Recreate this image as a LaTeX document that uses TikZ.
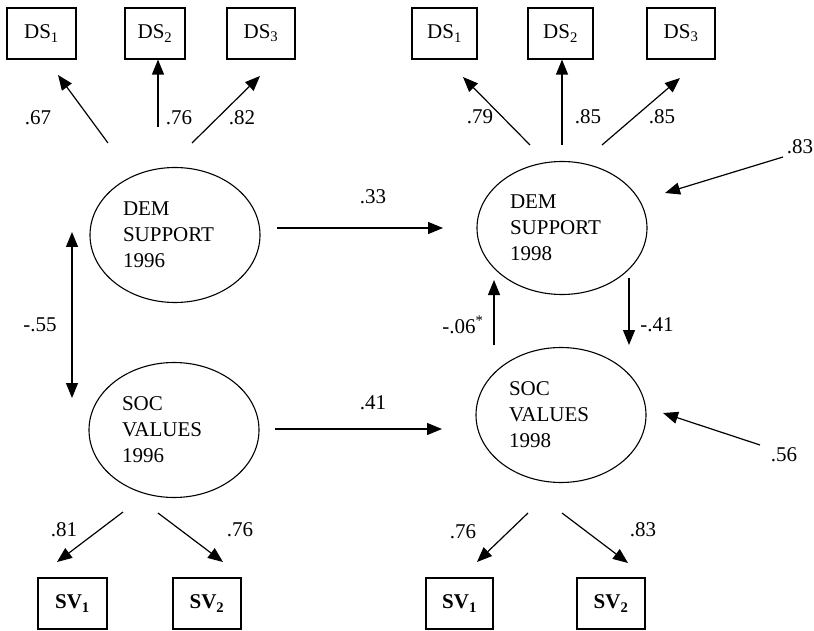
\documentclass[tikz,border=0pt]{standalone}
\usepackage{fontspec}
\setmainfont{Liberation Serif}
\usetikzlibrary{shapes.geometric,arrows.meta}
\begin{document}
\begin{tikzpicture}[x=1pt,y=-1pt,
  font=\fontsize{21}{26}\selectfont,
  obs/.style={draw,line width=1.2pt,minimum height=51pt,inner sep=0pt},
  lat/.style={draw,ellipse,line width=1.1pt,minimum width=170pt,minimum height=135pt,inner sep=0pt,text width=104pt,align=left},
  arr/.style={line width=1.2pt,-{Triangle[length=15pt,width=12pt]}},
  darr/.style={line width=1.2pt,{Triangle[length=15pt,width=12pt]}-{Triangle[length=15pt,width=12pt]}},
  lbl/.style={inner sep=0pt}]
\useasboundingbox (0,0) rectangle (814,631);
% observed indicators
\node[obs,minimum width=69pt] (ds1a) at (41.5,33.5) {DS\textsubscript{1}};
\node[obs,minimum width=60pt] (ds2a) at (155,33.5) {DS\textsubscript{2}};
\node[obs,minimum width=68pt] (ds3a) at (261,33.5) {DS\textsubscript{3}};
\node[obs,minimum width=65pt] (ds1b) at (444.5,33.5) {DS\textsubscript{1}};
\node[obs,minimum width=65pt] (ds2b) at (560.5,33.5) {DS\textsubscript{2}};
\node[obs,minimum width=68pt] (ds3b) at (681,33.5) {DS\textsubscript{3}};
\node[obs,minimum width=69pt,font=\fontsize{21}{26}\selectfont\bfseries] (sv1a) at (72.5,603.5) {SV\textsubscript{1}};
\node[obs,minimum width=68pt,font=\fontsize{21}{26}\selectfont\bfseries] (sv2a) at (207,603.5) {SV\textsubscript{2}};
\node[obs,minimum width=67pt,font=\fontsize{21}{26}\selectfont\bfseries] (sv1b) at (459.5,603.5) {SV\textsubscript{1}};
\node[obs,minimum width=68pt,font=\fontsize{21}{26}\selectfont\bfseries] (sv2b) at (611,603.5) {SV\textsubscript{2}};
% latent variables
\node[lat] (dem96) at (175,235) {DEM\\SUPPORT\\1996};
\node[lat] (soc96) at (174,430) {SOC\\VALUES\\1996};
\node[lat,minimum height=133pt] (dem98) at (562,228) {DEM\\SUPPORT\\1998};
\node[lat] (soc98) at (561,415) {SOC\\VALUES\\1998};
% error sources (free ends)
\coordinate (e1) at (783,157);
\coordinate (e2) at (760,445);
% loadings 1996
\draw[arr] ([shift={(-67,-92)}]dem96.center) -- ([shift={(16.5,41.5)}]ds1a.center);
\draw[arr] ([shift={(-17,-108)}]dem96.center) -- ([shift={(3,0)}]ds2a.south);
\draw[arr] ([shift={(17,-92)}]dem96.center) -- ([shift={(-1,42.5)}]ds3a.center);
% loadings 1998
\draw[arr] ([shift={(-32,-83)}]dem98.center) -- ([shift={(18.5,43.5)}]ds1b.center);
\draw[arr] ([shift={(0,-83)}]dem98.center) -- ([shift={(1.5,0)}]ds2b.south);
\draw[arr] ([shift={(40,-83)}]dem98.center) -- ([shift={(-1,44.5)}]ds3b.center);
% correlation
\draw[darr] ([shift={(-103,-3)}]dem96.center) -- ([shift={(-102,-32)}]soc96.center);
% structural paths
\draw[arr] ([shift={(102,-7)}]dem96.center) -- ([shift={(-119,0)}]dem98.center);
\draw[arr] ([shift={(101,-1)}]soc96.center) -- ([shift={(-119,14)}]soc98.center);
\draw[arr] ([shift={(-67,-70)}]soc98.center) -- ([shift={(-68,52)}]dem98.center);
\draw[arr] ([shift={(67,50)}]dem98.center) -- ([shift={(68,-70)}]soc98.center);
% disturbances
\draw[arr] (e1) -- ([shift={(103,-35)}]dem98.center);
\draw[arr] (e2) -- ([shift={(102,-2)}]soc98.center);
% SV loadings
\draw[arr] ([shift={(-51,82)}]soc96.center) -- ([shift={(-15.5,-41.5)}]sv1a.center);
\draw[arr] ([shift={(-16,83)}]soc96.center) -- ([shift={(16,-41.5)}]sv2a.center);
\draw[arr] ([shift={(-33,98)}]soc98.center) -- ([shift={(17.5,-41.5)}]sv1b.center);
\draw[arr] ([shift={(1,98)}]soc98.center) -- ([shift={(17,-40.5)}]sv2b.center);
% coefficients
\node[lbl] (l1) at (38,118) {.67};
\node[lbl] (l2) at (179,118) {.76};
\node[lbl] (l3) at (242,118) {.82};
\node[lbl] (l4) at (480,117) {.79};
\node[lbl] (l5) at (588,117) {.85};
\node[lbl] (l6) at (662,117) {.85};
\node[lbl] (l7) at (800,147) {.83};
\node[lbl] (l8) at (373,197) {.33};
\node[lbl] (l9) at (373,403) {.41};
\node[lbl] (l10) at (40,325) {-.55};
\node[lbl] (l11) at (463,325) {-.06\textsuperscript{*}};
\node[lbl] (l12) at (657,325) {-.41};
\node[lbl] (l13) at (784,455) {.56};
\node[lbl] (l14) at (64,530) {.81};
\node[lbl] (l15) at (240,530) {.76};
\node[lbl] (l16) at (463,532) {.76};
\node[lbl] (l17) at (643,530) {.83};
\end{tikzpicture}
\end{document}
